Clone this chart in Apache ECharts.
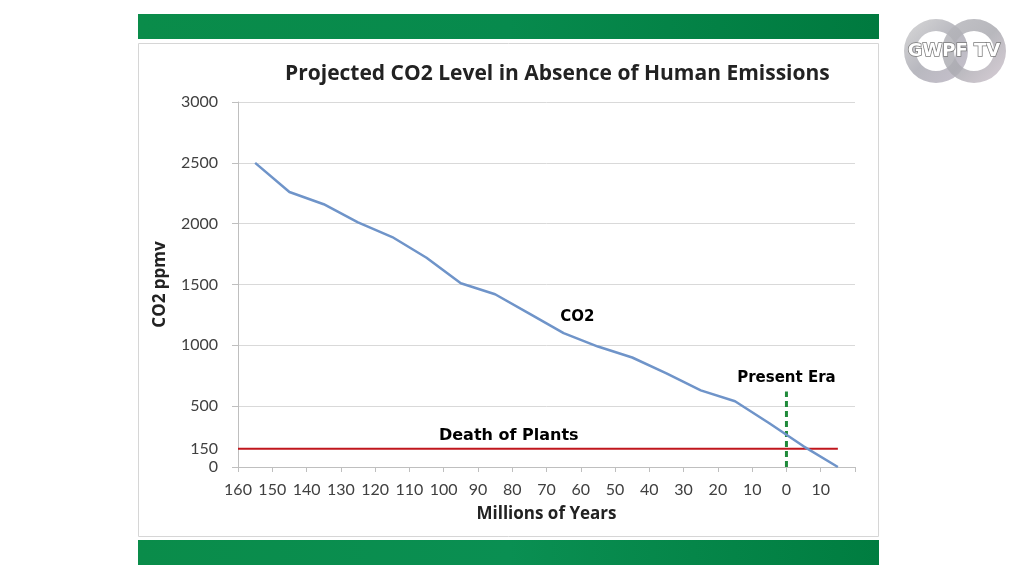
<!DOCTYPE html>
<html>
<head>
<meta charset="utf-8">
<script src="https://cdn.jsdelivr.net/npm/echarts@6/dist/echarts.min.js"></script>
<style>html,body{margin:0;padding:0;background:#fff;}#c{width:1024px;height:576px;}</style>
</head>
<body>
<div id="c"></div>
<script>
// Data
var years = [155, 145, 135, 125, 115, 105, 95, 85, 75, 65, 55, 45, 35, 25, 15, 5, -5, -15];
var co2 = [2500, 2260, 2160, 2010, 1890, 1720, 1510, 1420, 1260, 1100, 990, 900, 770, 630, 540, 360, 170, 0];
var deathLevel = 150;
var deathSpan = [160, -15];
var presentX = 0;
var presentSpan = [0, 620];
var yLabelValues = [0, 150, 500, 1000, 1500, 2000, 2500, 3000];
var annotations = [
  {x: 61, y: 1233, text: 'CO2', size: 15},
  {x: 0, y: 734, text: 'Present Era', size: 15},
  {x: 81, y: 252, text: 'Death of Plants', size: 16}
];

var chart = echarts.init(document.getElementById('c'));
var font = 'Lato';
var headFont = 'Open Sans';
var annoFont = 'DejaVu Sans';

var option = {
  backgroundColor: '#ffffff',
  animation: false,
  title: {
    text: 'Projected CO2 Level in Absence of Human Emissions',
    left: 285, top: 64, padding: 0,
    textStyle: {fontFamily: headFont, fontWeight: 'bold', fontSize: 21, color: '#222222'}
  },
  graphic: [
    {type: 'rect', z: -10, shape: {x: 138.5, y: 43.5, width: 740, height: 493},
     style: {fill: '#ffffff', stroke: '#d6d6d6', lineWidth: 1}},
    {type: 'rect', z: -5, shape: {x: 138, y: 14, width: 741, height: 25},
     style: {fill: new echarts.graphic.LinearGradient(0, 0, 1, 0, [{offset: 0, color: '#0a8c4a'}, {offset: 0.5, color: '#078a4d'}, {offset: 1, color: '#007a3f'}])}},
    {type: 'rect', z: -5, shape: {x: 138, y: 540, width: 741, height: 25},
     style: {fill: new echarts.graphic.LinearGradient(0, 0, 1, 0, [{offset: 0, color: '#0a8c4a'}, {offset: 0.5, color: '#0a8f52'}, {offset: 1, color: '#007d40'}])}},
    {type: 'ring', shape: {cx: 936, cy: 51, r: 32, r0: 20},
     style: {fill: new echarts.graphic.LinearGradient(0, 0, 1, 1, [{offset: 0, color: '#d2d2d2'}, {offset: 0.5, color: '#acacb4'}, {offset: 1, color: '#bdb6c4'}]), opacity: 0.85}},
    {type: 'ring', shape: {cx: 974, cy: 51, r: 32, r0: 20},
     style: {fill: new echarts.graphic.LinearGradient(0, 0, 1, 1, [{offset: 0, color: '#b8b8bd'}, {offset: 0.5, color: '#ababb1'}, {offset: 1, color: '#d2c6d0'}]), opacity: 0.85}},
    {type: 'text', x: 954, y: 51,
     style: {text: 'GWPF TV', fontFamily: 'DejaVu Sans', fontWeight: 'bold', fontSize: 18, fill: '#ffffff', stroke: '#7a7a7a', lineWidth: 1.5, align: 'center', verticalAlign: 'middle'}}
  ],
  grid: {left: 238, right: 169, top: 102, bottom: 109},
  xAxis: {
    type: 'value', inverse: true, min: -20, max: 160, interval: 10,
    name: 'Millions of Years', nameLocation: 'middle', nameGap: 39,
    nameTextStyle: {fontFamily: headFont, fontWeight: 'bold', fontSize: 17, color: '#222222'},
    axisLine: {show: true, onZero: false, lineStyle: {color: '#bfbfbf', width: 1}},
    axisTick: {show: true, length: 5, lineStyle: {color: '#bfbfbf'}},
    axisLabel: {margin: 15, fontFamily: font, fontSize: 16, color: '#404040',
      formatter: function (v) { return v === -20 ? '' : String(Math.abs(v)); }},
    splitLine: {show: false}
  },
  yAxis: {
    type: 'value', min: 0, max: 3000, interval: 500,
    name: 'CO2 ppmv', nameLocation: 'middle', nameGap: 69, nameRotate: 90,
    nameTextStyle: {fontFamily: headFont, fontWeight: 'bold', fontSize: 17, color: '#222222'},
    axisLine: {show: true, onZero: false, lineStyle: {color: '#bfbfbf', width: 1}},
    axisTick: {show: true, length: 6, lineStyle: {color: '#bfbfbf'}},
    axisLabel: {margin: 20, fontFamily: font, fontSize: 16, color: '#404040', customValues: yLabelValues,
      formatter: function (v) { return String(v); }},
    splitLine: {show: true, lineStyle: {color: '#d9d9d9', width: 1}}
  },
  series: [
    {
      name: 'Death of Plants', type: 'line', symbol: 'none', silent: true,
      data: deathSpan.map(function (x) { return [x, deathLevel]; }),
      lineStyle: {color: '#c0161c', width: 2}, z: 3
    },
    {
      name: 'Present Era', type: 'line', symbol: 'none', silent: true,
      data: presentSpan.map(function (y) { return [presentX, y]; }),
      lineStyle: {color: '#1f8a3a', width: 3, type: [6, 4]}, z: 4
    },
    {
      name: 'CO2', type: 'line', symbol: 'none',
      data: years.map(function (x, i) { return [x, co2[i]]; }),
      lineStyle: {color: '#6f94c9', width: 2.5}, z: 5
    },
    {
      name: 'labels', type: 'scatter', symbolSize: 1, silent: true,
      itemStyle: {color: 'rgba(0,0,0,0)'},
      data: annotations.map(function (a) {
        return {value: [a.x, a.y], label: {show: true, position: 'inside', formatter: a.text, opacity: 1,
          fontFamily: annoFont, fontWeight: 'bold', fontSize: a.size, color: '#000000', textBorderWidth: 0}};
      }), z: 6
    }
  ]
};
chart.setOption(option);
</script>
</body>
</html>
